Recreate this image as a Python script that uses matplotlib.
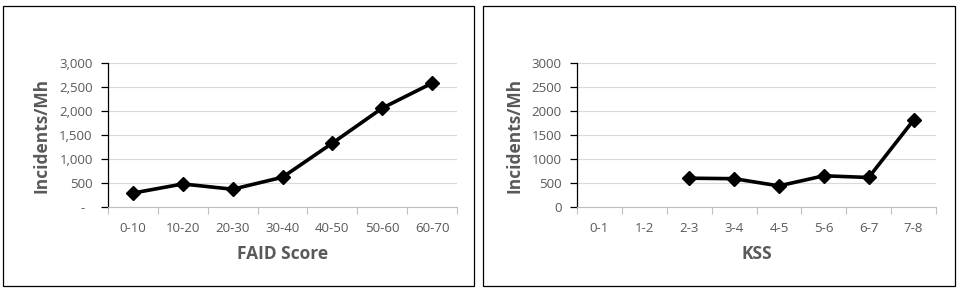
import numpy as np
import matplotlib as mpl
import matplotlib.pyplot as plt
from matplotlib.patches import Rectangle

mpl.rc('font', family=['Open Sans', 'DejaVu Sans'])

faid_cats	= ['0-10', '10-20', '20-30', '30-40', '40-50', '50-60', '60-70']
faid_vals	= [290, 480, 370, 620, 1330, 2060, 2580]
faid_ticks	= ['-  ', '500', '1,000', '1,500', '2,000', '2,500', '3,000']

kss_cats	= ['0-1', '1-2', '2-3', '3-4', '4-5', '5-6', '6-7', '7-8']
kss_vals	= [np.nan, np.nan, 600, 590, 440, 650, 615, 1810]
kss_ticks	= ['0', '500', '1000', '1500', '2000', '2500', '3000']

txt_c	= '#595959'
W, H	= 960., 288.

fig = plt.figure(figsize=(9.6, 2.88), dpi=100)

# panel frames
for x0, x1 in ((3, 474), (483, 955)):
	fig.patches.append(Rectangle((x0/W, 1 - 286/H), (x1-x0)/W, (286-6)/H,
		transform=fig.transFigure, fill=False, ec='black', lw=0.9))

ax1 = fig.add_axes([108/W, 1 - 207/H, (457-108)/W, 144/H])
ax2 = fig.add_axes([577/W, 1 - 207/H, (936-577)/W, 144/H])

def style(ax, cats, vals, yt, xlabel):
	n = len(cats)
	x = np.arange(n)
	ax.plot(x, vals, c='black', lw=2.6, marker='D', ms=7.5, zorder=3, clip_on=False)
	ax.set_xlim(-0.5, n - 0.5)
	ax.set_ylim(0, 3000)
	ax.set_yticks(range(0, 3001, 500))
	ax.set_yticklabels(yt)
	ax.set_xticks(x)
	ax.set_xticklabels(cats)
	ax.set_xticks(np.arange(n + 1) - 0.5, minor=True)
	ax.tick_params(axis='x', which='major', length=0, pad=11, labelsize=9.5, labelcolor=txt_c)
	ax.tick_params(axis='x', which='minor', length=5, color='#bfbfbf', width=0.8)
	ax.tick_params(axis='y', length=5, color='black', width=0.9, labelsize=9.5,
		labelcolor=txt_c, pad=6)
	ax.grid(axis='y', color='#d9d9d9', lw=0.8)
	ax.set_axisbelow(True)
	for s in ('top', 'right'):
		ax.spines[s].set_visible(False)
	ax.spines['left'].set_color('black')
	ax.spines['left'].set_linewidth(0.9)
	ax.spines['bottom'].set_color('#bfbfbf')
	ax.spines['bottom'].set_linewidth(0.8)
	ax.set_ylabel('Incidents/Mh', fontsize=12.5, fontweight='bold', color=txt_c, labelpad=6)
	ax.set_xlabel(xlabel, fontsize=12.5, fontweight='bold', color=txt_c, labelpad=7)

style(ax1, faid_cats, faid_vals, faid_ticks, 'FAID Score')
style(ax2, kss_cats, kss_vals, kss_ticks, 'KSS')

plt.savefig('out.png', dpi=100)
